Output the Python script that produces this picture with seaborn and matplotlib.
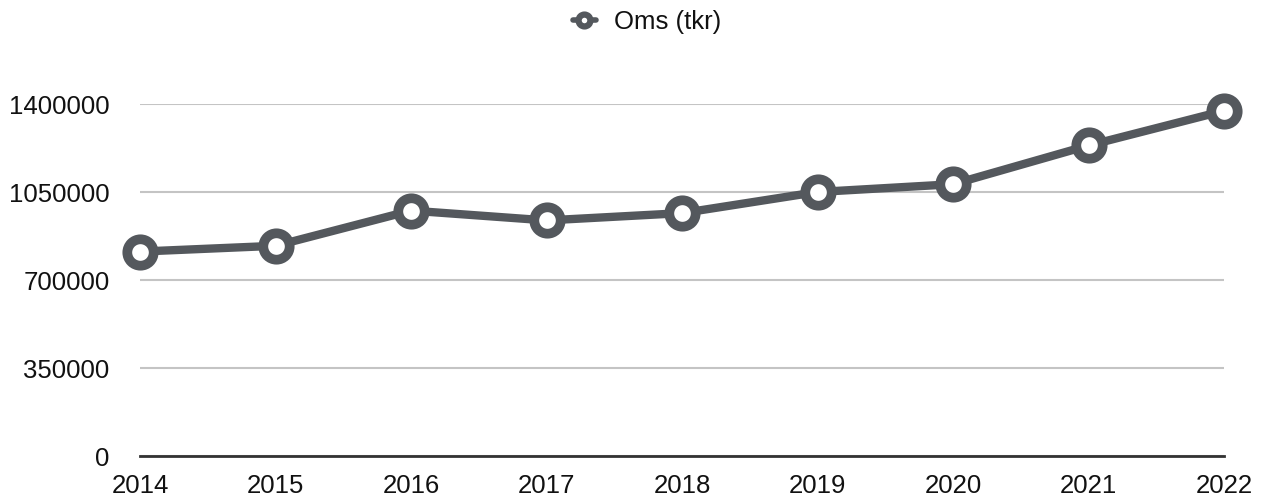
import matplotlib
matplotlib.use("Agg")
import matplotlib.pyplot as plt
import seaborn as sns
import pandas as pd

years = [2014, 2015, 2016, 2017, 2018, 2019, 2020, 2021, 2022]
oms = [813000, 836000, 976000, 937000, 966000, 1050000, 1081000, 1235000, 1373000]
series_name = "Oms (tkr)"
yticks = [0, 350000, 700000, 1050000, 1400000]

sns.set_theme(style="white")
plt.rcParams["font.family"] = ["Liberation Sans", "DejaVu Sans"]

df = pd.DataFrame({"year": years, "value": oms})

fig = plt.figure(figsize=(12.61, 4.98), dpi=100)
ax = fig.add_axes([140 / 1261, 1 - 456 / 498, (1224 - 140) / 1261, (456 - 104) / 498])

line_color = "#54585d"
sns.lineplot(data=df, x="year", y="value", ax=ax, color=line_color, linewidth=6,
             marker="o", markersize=19, markerfacecolor="white",
             markeredgecolor=line_color, markeredgewidth=7, label=series_name,
             clip_on=False, zorder=5)

ax.set_xlim(2014, 2022)
ax.set_ylim(0, 1400000)
ax.set_xticks(years)
ax.set_xticklabels([str(y) for y in years])
ax.set_yticks(yticks)
ax.set_yticklabels([str(v) for v in yticks])
ax.set_xlabel("")
ax.set_ylabel("")

ax.grid(axis="y", color="#c4c4c4", linewidth=1.5)
ax.grid(axis="x", visible=False)
for s in ["top", "right", "left"]:
    ax.spines[s].set_visible(False)
ax.spines["bottom"].set_color("#333333")
ax.spines["bottom"].set_linewidth(2)
ax.spines["bottom"].set_zorder(3)

ax.tick_params(axis="both", length=0, labelsize=18.5, colors="#111111")
ax.tick_params(axis="y", pad=22)
ax.tick_params(axis="x", pad=13)

leg = ax.legend(loc="center", bbox_to_anchor=((647 - 140) / 1084, (456 - 22) / 352),
                frameon=False, fontsize=18.5, handlelength=0.9, handletextpad=0.7,
                markerscale=0.45)
for h in leg.legend_handles:
    h.set_linewidth(4)
    h.set_markeredgewidth(4.5)
for t in leg.get_texts():
    t.set_color("#111111")

fig.savefig("out.png", dpi=100)
